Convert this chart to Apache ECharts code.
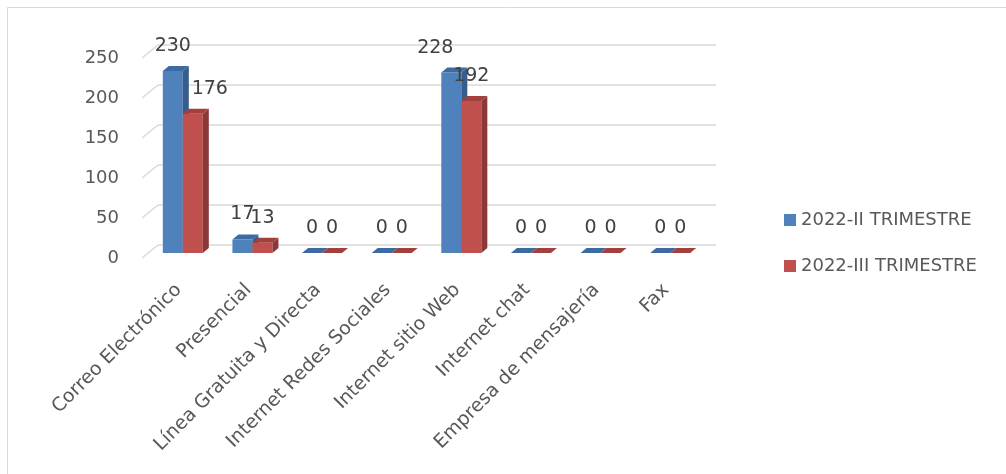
<!DOCTYPE html>
<html><head><meta charset="utf-8">
<script src="https://cdn.jsdelivr.net/npm/echarts@6/dist/echarts.min.js"></script>
<style>html,body{margin:0;padding:0;background:#fff}#c{width:1006px;height:474px}</style>
</head><body><div id="c"></div>
<script>
const categories = ['Correo Electrónico','Presencial','Línea Gratuita y Directa','Internet Redes Sociales','Internet sitio Web','Internet chat','Empresa de mensajería','Fax'];
const seriesNames = ['2022-II TRIMESTRE','2022-III TRIMESTRE'];
const q2Values = [230,17,0,0,228,0,0,0];
const q3Values = [176,13,0,0,192,0,0,0];
const yTicks = [0,50,100,150,200,250];

const chart = echarts.init(document.getElementById('c'), null, {renderer:'canvas'});
const FONT = '"DejaVu Sans"';
const DX = 6, DY = 5;
const styles = [
  {front:'#4f81bd', top:'#3d6aa3', side:'#385d8a', labelShift:{4:-16}},
  {front:'#c0504d', top:'#a2403d', side:'#8c3836', labelShift:{0:17}}
];
function barRender(si){
  return function(params, api){
    const idx = api.value(0), v = api.value(1);
    const c = api.coord([idx, v]);
    const base = api.coord([idx, 0]);
    const band = api.size([1,0])[0];
    const w = band*0.2874;
    const x0 = si===0 ? c[0]-w : c[0];
    const x1 = x0 + w;
    const yt = c[1], yb = base[1];
    const st = styles[si];
    const children = [];
    if (yb - yt > 0.5) {
      children.push({type:'rect', shape:{x:x0,y:yt,width:w,height:yb-yt}, style:{fill:st.front}});
      children.push({type:'polygon', shape:{points:[[x1,yt],[x1+DX,yt-DY],[x1+DX,yb-DY],[x1,yb]]}, style:{fill:st.side}});
    }
    children.push({type:'polygon', shape:{points:[[x0,yt],[x1,yt],[x1+DX,yt-DY],[x0+DX,yt-DY]]}, style:{fill:st.top}});
    const shift = st.labelShift[params.dataIndex] || 0;
    children.push({type:'text', z2:10, style:{text:String(v), x:(x0+x1)/2+shift, y:yt-25, align:'center', verticalAlign:'middle', font:'19px ' + FONT, fill:'#404040'}});
    return {type:'group', children};
  };
}
function diagRender(params, api){
  const p = api.coord([0, api.value(1)]);
  return {type:'line', shape:{x1:p[0]-16, y1:p[1]+13, x2:p[0], y2:p[1]}, style:{stroke:'#d9d9d9', lineWidth:1.5}};
}
const option = {
  animation:false,
  backgroundColor:'#fff',
  graphic:[
    {type:'line', shape:{x1:7.5,y1:7.5,x2:1006,y2:7.5}, style:{stroke:'#d9d9d9', lineWidth:1}, silent:true},
    {type:'line', shape:{x1:7.5,y1:7.5,x2:7.5,y2:474}, style:{stroke:'#d9d9d9', lineWidth:1}, silent:true}
  ],
  legend:{orient:'vertical', left:784, top:211, padding:0, itemWidth:12, itemHeight:12, itemGap:28, icon:'rect',
    data:seriesNames, textStyle:{fontFamily:'DejaVu Sans', fontSize:18, color:'#595959'}},
  grid:[
    {left:148, right:301, top:55.2, bottom:221},
    {left:148, right:301, top:58.5, bottom:216},
    {left:158, right:290, top:45, bottom:229},
    {left:144, right:305, top:55.2, bottom:221}
  ],
  xAxis:[
    {type:'category', gridIndex:0, data:categories, show:false},
    {type:'value', gridIndex:1, show:false, min:0, max:1},
    {type:'value', gridIndex:2, show:false, min:0, max:1},
    {type:'category', gridIndex:3, data:categories, axisLine:{show:false}, axisTick:{show:false},
      axisLabel:{interval:0, rotate:45, margin:34, fontFamily:'DejaVu Sans', fontSize:19, color:'#595959'}}
  ],
  yAxis:[
    {type:'value', gridIndex:0, min:0, max:250, interval:50, show:false},
    {type:'value', gridIndex:1, min:0, max:250, interval:50, axisLine:{show:false}, axisTick:{show:false}, splitLine:{show:false},
      axisLabel:{margin:29, fontFamily:'DejaVu Sans', fontSize:18, color:'#595959'}},
    {type:'value', gridIndex:2, min:0, max:250, interval:50, axisLine:{show:false}, axisTick:{show:false}, axisLabel:{show:false},
      splitLine:{show:true, lineStyle:{color:'#d9d9d9', width:1.5}}},
    {type:'value', gridIndex:3, min:0, max:250, show:false}
  ],
  series:[
    {type:'custom', name:'diag', xAxisIndex:2, yAxisIndex:2, renderItem:diagRender, data:yTicks.map(v=>[0,v]), silent:true, z:1},
    {type:'custom', name:seriesNames[0], xAxisIndex:0, yAxisIndex:0, itemStyle:{color:styles[0].front}, renderItem:barRender(0), data:q2Values.map((v,i)=>[i,v]), z:3},
    {type:'custom', name:seriesNames[1], xAxisIndex:0, yAxisIndex:0, itemStyle:{color:styles[1].front}, renderItem:barRender(1), data:q3Values.map((v,i)=>[i,v]), z:4}
  ]
};
chart.setOption(option);
</script></body></html>
